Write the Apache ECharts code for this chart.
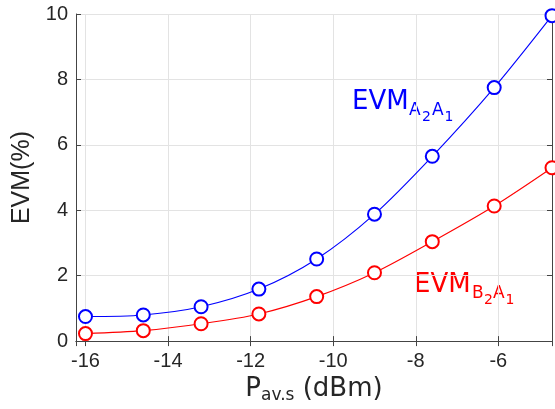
<!DOCTYPE html>
<html>
<head>
<meta charset="utf-8">
<script src="https://cdn.jsdelivr.net/npm/echarts@6/dist/echarts.min.js"></script>
<style>
  html, body { margin: 0; padding: 0; background: #fff; }
  #chart { width: 555px; height: 409px; }
</style>
</head>
<body>
<div id="chart"></div>
<script>
// input power points (dBm)
var powerDbm = [-16, -14.6, -13.2, -11.8, -10.4, -9, -7.6, -6.1, -4.7];
// EVM values (%)
var evmA2A1 = [0.75, 0.80, 1.05, 1.59, 2.51, 3.88, 5.65, 7.75, 9.95];
var evmB2A1 = [0.23, 0.32, 0.53, 0.83, 1.36, 2.09, 3.04, 4.13, 5.30];

var xRange = [-16.23, -4.7];
var yRange = [0, 10];

var axisColor = '#444';
var gridColor = '#e3e3e3';
var tickFont = 'Liberation Sans';

function pairs(xs, ys) {
  return xs.map(function (x, i) { return [x, ys[i]]; });
}

// frame axes (top / right) only draw line + inner ticks
function frameX() {
  return {
    type: 'value', position: 'top', min: xRange[0], max: xRange[1],
    axisLine: { show: true, lineStyle: { color: axisColor, width: 1 } },
    axisTick: { show: true, inside: true, length: 5, lineStyle: { color: axisColor } },
    axisLabel: { show: false }, splitLine: { show: false }
  };
}
function frameY() {
  return {
    type: 'value', position: 'right', min: yRange[0], max: yRange[1],
    axisLine: { show: true, lineStyle: { color: axisColor, width: 1 } },
    axisTick: { show: true, inside: true, length: 5, lineStyle: { color: axisColor } },
    axisLabel: { show: false }, splitLine: { show: false }
  };
}

function subLabel(x, y, color, parts) {
  // parts: [text, fontSize, dx, dy]
  return {
    type: 'group', left: x, top: y, silent: true,
    children: parts.map(function (p) {
      return {
        type: 'text', x: p[2], y: p[3],
        style: {
          text: p[0], fill: color, font: p[1] + 'px "DejaVu Sans"',
          verticalAlign: 'middle', align: 'left'
        }
      };
    })
  };
}

var chart = echarts.init(document.getElementById('chart'));

var option = {
  animation: false,
  grid: { left: 76, right: 3, top: 14, bottom: 63 },
  xAxis: [{
    type: 'value', min: xRange[0], max: xRange[1],
    name: '{p|P}{s|av.s}{p| (dBm)}',
    nameLocation: 'middle', nameGap: 30,
    nameTextStyle: {
      rich: {
        p: { fontFamily: 'DejaVu Sans', fontSize: 26, color: '#262626', lineHeight: 30 },
        s: { fontFamily: 'DejaVu Sans', fontSize: 17, color: '#262626', lineHeight: 12, verticalAlign: 'bottom' }
      }
    },
    axisLine: { show: true, onZero: false, lineStyle: { color: axisColor, width: 1 } },
    axisTick: { show: true, inside: true, length: 5, lineStyle: { color: axisColor } },
    axisLabel: {
      color: '#262626', fontFamily: tickFont, fontSize: 20, margin: 10,
      showMinLabel: false, showMaxLabel: false
    },
    splitLine: { show: true, lineStyle: { color: gridColor, width: 1 } }
  }, frameX()],
  yAxis: [{
    type: 'value', min: yRange[0], max: yRange[1],
    name: 'EVM(%)', nameLocation: 'middle', nameGap: 38, nameRotate: 90,
    nameTextStyle: { fontFamily: tickFont, fontSize: 25, color: '#262626' },
    axisLine: { show: true, onZero: false, lineStyle: { color: axisColor, width: 1 } },
    axisTick: { show: true, inside: true, length: 5, lineStyle: { color: axisColor } },
    axisLabel: { color: '#262626', fontFamily: tickFont, fontSize: 20, margin: 8 },
    splitLine: { show: true, lineStyle: { color: gridColor, width: 1 } }
  }, frameY()],
  series: [{
    name: 'EVM A2A1', type: 'line', data: pairs(powerDbm, evmA2A1),
    smooth: 0.3, clip: false,
    symbol: 'emptyCircle', symbolSize: 13,
    lineStyle: { color: '#0000ff', width: 1.1 },
    itemStyle: { color: '#0000ff', borderColor: '#0000ff', borderWidth: 1 }
  }, {
    name: 'EVM B2A1', type: 'line', data: pairs(powerDbm, evmB2A1),
    smooth: 0.3, clip: false,
    symbol: 'emptyCircle', symbolSize: 13,
    lineStyle: { color: '#ff0000', width: 1.1 },
    itemStyle: { color: '#ff0000', borderColor: '#ff0000', borderWidth: 1 }
  }],
  graphic: [
    subLabel(352, 89, '#0000ff', [
      ['EVM', 26, 0, 9.6], ['A', 17, 57, 18.5], ['2', 14, 70, 24.5],
      ['A', 17, 80, 18.5], ['1', 14, 92.5, 24.5]
    ]),
    subLabel(414, 272, '#ff0000', [
      ['EVM', 26, 0, 9.6], ['B', 17, 58, 18.5], ['2', 14, 70, 24.5],
      ['A', 17, 79, 18.5], ['1', 14, 91.5, 24.5]
    ])
  ]
};

chart.setOption(option);
</script>
</body>
</html>
